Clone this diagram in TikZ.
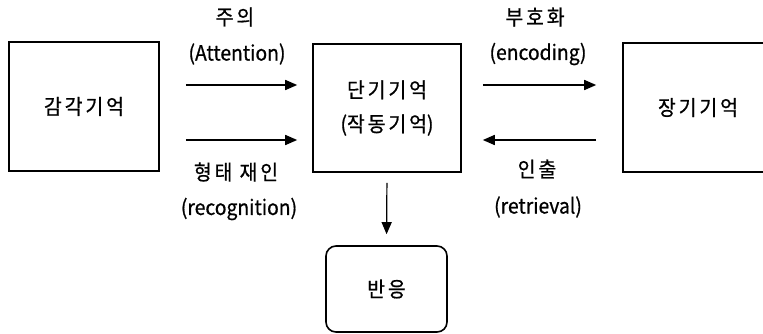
\documentclass[tikz,border=0pt]{standalone}
\usepackage{fontspec}
\setmainfont{Noto Sans CJK KR}[FakeStretch=0.92,FakeBold=0.7]
\usetikzlibrary{arrows.meta,positioning}

\newcommand\spread[1]{{\addfontfeatures{LetterSpace=14}#1}}

\tikzset{
  membox/.style={draw,line width=1.6pt,inner sep=0pt,minimum width=150pt,minimum height=129pt,font=\fontsize{21}{34}\selectfont,align=center},
  resbox/.style={membox,rounded corners=10pt,minimum width=121pt,minimum height=86pt},
  arr/.style={line width=1.6pt,-{Triangle[length=12pt,width=10pt]}},
  lbl/.style={inner sep=0pt,font=\fontsize{21}{22}\selectfont}
}

\begin{document}
\begin{tikzpicture}[x=1pt,y=-1pt]
\useasboundingbox (0,0) rectangle (763,333);
\node[membox] (sensory) at (84,106.5) {\spread{감각기억}};
\node[membox,minimum width=148pt,minimum height=128pt] (shortterm) at (387,108) {\spread{단기기억}\\(\spread{작동기억})};
\node[membox] (longterm) at (698,107.5) {\spread{장기기억}};
\node[resbox] (response) at (386.5,289) {\spread{반응}};
% arrows between stores
\draw[arr] ([xshift=26pt,yshift=21.5pt]sensory.east) -- ([xshift=-15pt,yshift=23pt]shortterm.west);
\draw[arr] ([xshift=26pt,yshift=-33.5pt]sensory.east) -- ([xshift=-15pt,yshift=-32pt]shortterm.west);
\draw[arr] ([xshift=21pt,yshift=23pt]shortterm.east) -- ([xshift=-26pt,yshift=22.5pt]longterm.west);
\draw[arr] ([xshift=-26pt,yshift=-32.5pt]longterm.west) -- ([xshift=21pt,yshift=-32pt]shortterm.east);
\draw[arr,line width=1.2pt,shorten <=10pt,shorten >=11pt] (shortterm.south) -- (response.north);
% labels
\node[lbl] (attnko) at (235,17) {\spread{주의}};
\node[lbl] (attnen) at (237,54) {(Attention)};
\node[lbl] (recogko) at (236,172) {\spread{형태 재인}};
\node[lbl] (recogen) at (239,209) {(recognition)};
\node[lbl] (encko) at (535,17) {\spread{부호화}};
\node[lbl] (encen) at (538,54) {(encoding)};
\node[lbl] (retrko) at (537,169) {\spread{인출}};
\node[lbl] (retren) at (538,207) {(retrieval)};
\end{tikzpicture}
\end{document}
